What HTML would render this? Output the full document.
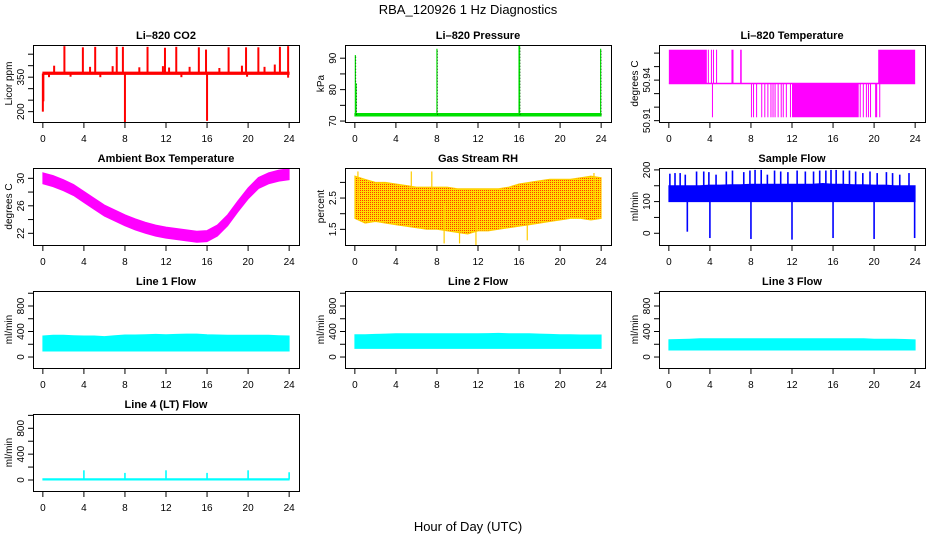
<!DOCTYPE html>
<html><head><meta charset="utf-8">
<style>
html,body{margin:0;padding:0;background:#fff;}
svg{display:block;font-family:"Liberation Sans",Arial,sans-serif;}
</style></head>
<body>
<svg id="chart" width="936" height="540" viewBox="0 0 936 540" xmlns="http://www.w3.org/2000/svg">
<defs>
<pattern id="rhpat" width="2" height="2" patternUnits="userSpaceOnUse">
<rect width="2" height="2" fill="#ffdd00"/><rect width="1" height="1" fill="#ff3a00"/>
</pattern>
</defs>
<text x="468" y="14" text-anchor="middle" font-size="13">RBA_120926  1 Hz Diagnostics</text>
<text x="468" y="531" text-anchor="middle" font-size="13">Hour of Day (UTC)</text>
</svg>
<script>
// ---- shared ----
const xTicks = [0,4,8,12,16,20,24];
const hours = [0,1,2,3,4,5,6,7,8,9,10,11,12,13,14,15,16,17,18,19,20,21,22,23,24];

// CO2
const co2Lo = hours.map(()=>362);
const co2Hi = hours.map(()=>372);
const co2SpikeHours = [2.1,3.9,5.1,7.2,7.8,10.2,11.9,13.0,15.2,15.9,18.1,19.8,21.0,23.1,23.9,1.1,4.6,6.8,9.4,11.7,12.3,14.3,17.2,19.4,21.6,22.6,0.0,0.05,8.0,16.0,0.6,2.7,5.6,13.5,19.9,23.9];
const co2SpikeVals  = [485,480,482,482,482,482,478,482,480,470,480,480,480,482,485,400,395,398,393,398,392,395,390,400,395,405,200,245,155,160,350,352,350,350,352,348];
const co2Ticks = [200,250,300,350,400,450];
const co2Labels = [200,350];

// Pressure
const presLo = hours.map(()=>71.6);
const presHi = hours.map(()=>72.4);
const presSpikeHours = [0.05,0.12,8.0,16.0,16.05,23.95];
const presSpikeVals = [91,82,93,94,94,93];
const presTicks = [70,75,80,85,90];
const presLabels = [70,80,90];

// Li-820 Temperature (intervals)
const tempStart = [0.0,3.8,4.1,4.3,4.6,6.1,6.95,4.2,8.0,8.2,8.5,9.0,9.3,9.6,9.9,10.1,10.3,10.6,10.9,11.1,11.4,11.8,12.0,18.6,18.9,19.2,19.4,19.6,20.1,20.5,20.4];
const tempEnd   = [3.7,3.9,4.2,4.4,4.7,6.3,7.1,4.3,8.08,8.3,8.6,9.1,9.4,9.7,10.0,10.2,10.4,10.7,11.0,11.2,11.5,11.9,18.5,18.7,19.0,19.3,19.5,19.7,20.3,20.6,24.0];
const tempLo    = [50.9375,50.9375,50.9375,50.9375,50.9375,50.9375,50.9375,50.9125,50.9125,50.9125,50.9125,50.9125,50.9125,50.9125,50.9125,50.9125,50.9125,50.9125,50.9125,50.9125,50.9125,50.9125,50.9125,50.9125,50.9125,50.9125,50.9125,50.9125,50.9125,50.9125,50.9375];
const tempHi    = [50.9625,50.9625,50.9625,50.9625,50.9625,50.9625,50.9625,50.9375,50.9375,50.9375,50.9375,50.9375,50.9375,50.9375,50.9375,50.9375,50.9375,50.9375,50.9375,50.9375,50.9375,50.9375,50.9375,50.9375,50.9375,50.9375,50.9375,50.9375,50.9375,50.9375,50.9625];
const tempTicks = [50.91,50.92,50.93,50.94,50.95,50.96];
const tempLabels = [50.91,50.94];

// Ambient box temperature
const ambMid = [30,29.6,29,28.3,27.3,26.3,25.3,24.6,23.9,23.3,22.8,22.4,22.1,21.9,21.7,21.5,21.6,22.4,23.9,25.9,27.8,29.3,30,30.4,30.6];
const ambLo = ambMid.map(v=>v-0.8);
const ambHi = ambMid.map(v=>v+0.8);
const ambTicks = [22,24,26,28,30];
const ambLabels = [22,26,30];

// Gas stream RH
const rhLo = [1.85,1.7,1.75,1.7,1.65,1.6,1.55,1.5,1.5,1.45,1.4,1.35,1.45,1.45,1.5,1.55,1.6,1.65,1.7,1.75,1.8,1.85,1.85,1.8,1.85];
const rhHi = [3.2,3.1,3.0,3.0,2.95,2.9,2.85,2.85,2.85,2.85,2.8,2.8,2.8,2.8,2.8,2.85,2.95,3.0,3.05,3.1,3.1,3.1,3.15,3.2,3.15];
const rhSpikeHours = [8.7,10.2,11.8,16.8,0.3,5.5,7.5,23.3];
const rhSpikeVals = [1.05,1.05,1.0,1.15,3.35,3.35,3.35,3.3];
const rhTicks = [1.5,2.0,2.5,3.0];
const rhLabels = [1.5,2.5];

// Sample flow
const sfLo = hours.map(()=>100);
const sfHi = [150,150,150,150,152,152,153,153,155,155,155,155,155,155,155,157,155,155,153,153,152,152,150,150,150];
const sfSpikeHours = [0.1,0.6,1.1,1.6,2.7,3.4,3.9,4.6,5.6,6.2,7.3,7.9,8.4,9.0,9.6,10.3,10.9,11.6,12.5,13.3,14.1,14.7,15.3,15.8,16.3,17.0,17.6,18.2,18.9,19.6,20.3,21.2,21.8,22.5,23.4,1.8,4.0,8.0,12.0,16.0,20.0,23.95];
const sfSpikeVals  = [188,190,190,185,195,195,193,185,195,198,193,198,200,200,185,198,195,193,198,195,195,198,198,200,200,198,198,195,190,195,190,193,190,185,190,5,-15,-18,-20,-15,-18,-15];
const sfTicks = [0,50,100,150,200];
const sfLabels = [0,100,200];

// Line flows
const l1Lo = hours.map(()=>95);
const l1Hi = [330,340,340,335,330,330,320,335,345,345,350,355,350,355,360,360,350,345,340,340,340,340,340,335,330];
const l2Lo = hours.map(()=>135);
const l2Hi = [350,350,355,360,365,365,365,365,365,365,365,365,365,368,370,365,365,365,360,355,350,350,345,345,345];
const l3Lo = hours.map(()=>110);
const l3Hi = [270,275,280,285,285,285,285,285,285,285,285,285,285,285,285,285,285,285,285,285,280,280,280,275,270];
const l4Lo = hours.map(()=>0);
const l4Hi = hours.map(()=>20);
const l4SpikeHours = [4,8,12,16,20,24];
const l4SpikeVals = [150,110,150,110,150,120];
const flowTicks = [0,200,400,600,800,1000];
const flowLabels = [0,400,800];

// ---- drawing ----
const svg = document.getElementById('chart');
const NS = 'http://www.w3.org/2000/svg';
function mk(tag, attrs, parent){
  const e = document.createElementNS(NS, tag);
  for (const k in attrs) e.setAttribute(k, attrs[k]);
  (parent||svg).appendChild(e);
  return e;
}
const colL = [33,345,659];
const rowT = [45,168,291,414];
const W = 266, H = 77;

function panel(cfg){
  const L = colL[cfg.col], T = rowT[cfg.row];
  const g = mk('g', {});
  
  
  const xs = h => L + (h + 0.96) / 25.92 * W;
  const ys = v => T + H - (v - cfg.ymin) / (cfg.ymax - cfg.ymin) * H;
  const clipId = 'clip-' + cfg.name;
  const cp = mk('clipPath', {id: clipId}, g);
  mk('rect', {x:L, y:T, width:W, height:H}, cp);
  const plot = mk('g', {'clip-path':'url(#'+clipId+')'}, g);
  
  
  if (cfg.lo){
    let pts = [];
    hours.forEach((h,i)=>pts.push(xs(h).toFixed(1)+','+ys(cfg.hi[i]).toFixed(1)));
    for (let i=hours.length-1;i>=0;i--) pts.push(xs(hours[i]).toFixed(1)+','+ys(cfg.lo[i]).toFixed(1));
    const p = mk('polygon', {points: pts.join(' '), fill: cfg.fill || cfg.color, stroke: cfg.bandStroke || cfg.color, 'stroke-width': 1}, plot);
    
    
  }
  if (cfg.intStart){
    cfg.intStart.forEach((s,i)=>{
      const r = mk('rect', {x: xs(s), y: ys(cfg.intHi[i]), width: Math.max(1, xs(cfg.intEnd[i]) - xs(s)), height: ys(cfg.intLo[i]) - ys(cfg.intHi[i]), fill: cfg.color}, plot);
      
      
    });
    const ln = mk('line', {x1: xs(0), x2: xs(24), y1: ys(50.9375), y2: ys(50.9375), stroke: cfg.color, 'stroke-width': 1.5}, plot);
    
    
  }
  if (cfg.spikeH){
    cfg.spikeH.forEach((h,i)=>{
      const base = cfg.spikeBase(h);
      const l = mk('line', {x1: xs(h), x2: xs(h), y1: ys(base), y2: ys(cfg.spikeV[i]), stroke: cfg.spikeColor || cfg.color, 'stroke-width': cfg.spikeW || 1.6}, plot);
      
      
      if (cfg.dotted){
        const d = mk('line', {x1: xs(h)+0.5, x2: xs(h)+0.5, y1: ys(base), y2: ys(cfg.spikeV[i]), stroke: '#000', 'stroke-width': 0.6, 'stroke-dasharray': '1,2'}, plot);
        
        
      }
    });
  }
  const box = mk('rect', {x:L+0.5, y:T+0.5, width:W, height:H, fill:'none', stroke:'#000', 'stroke-width':1}, g);
  
  
  const xa = mk('g', {}, g);
  
  
  xTicks.forEach(t=>{
    mk('line', {x1: xs(t), x2: xs(t), y1: T+H+0.5, y2: T+H+6, stroke:'#000'}, xa);
    const tx = mk('text', {x: xs(t), y: T+H+20, 'text-anchor':'middle', 'font-size': 10}, xa);
    tx.textContent = t;
    
    
  });
  const ya = mk('g', {}, g);
  
  
  cfg.ticks.forEach(t=>{
    mk('line', {x1: L-5, x2: L+0.5, y1: ys(t), y2: ys(t), stroke:'#000'}, ya);
  });
  cfg.labels.forEach(t=>{
    const tx = mk('text', {x: L-9, y: ys(t), 'text-anchor':'middle', 'font-size': 10, transform: 'rotate(-90 '+(L-9)+' '+ys(t)+')'}, ya);
    tx.textContent = t;
    
    
  });
  const yt = mk('text', {x: L-21, y: T+H/2, 'text-anchor':'middle', 'font-size': 10, transform: 'rotate(-90 '+(L-21)+' '+(T+H/2)+')'}, g);
  yt.textContent = cfg.ylab;
  
  
  const ti = mk('text', {x: L+W/2, y: T-6, 'text-anchor':'middle', 'font-size': 11, 'font-weight':'bold'}, g);
  ti.textContent = cfg.title;
  
  
}

panel({name:'co2-panel', title:'Li\u2013820 CO2', ylab:'Licor ppm', col:0,row:0, ymin:155,ymax:490, color:'#ff0000', lo:co2Lo, hi:co2Hi, spikeH:co2SpikeHours, spikeV:co2SpikeVals, spikeBase:()=>366, spikeW:2, ticks:co2Ticks, labels:co2Labels});
panel({name:'pressure-panel', title:'Li\u2013820 Pressure', ylab:'kPa', col:1,row:0, ymin:69.7,ymax:94.2, color:'#00e000', lo:presLo, hi:presHi, spikeH:presSpikeHours, spikeV:presSpikeVals, spikeBase:()=>72, dotted:true, spikeW:1.2, ticks:presTicks, labels:presLabels});
panel({name:'li820-temperature-panel', title:'Li\u2013820 Temperature', ylab:'degrees C', col:2,row:0, ymin:50.909,ymax:50.966, color:'#ff00ff', intStart:tempStart, intEnd:tempEnd, intLo:tempLo, intHi:tempHi, ticks:tempTicks, labels:tempLabels});
panel({name:'ambient-temperature-panel', title:'Ambient Box Temperature', ylab:'degrees C', col:0,row:1, ymin:20.3,ymax:31.5, color:'#ff00ff', lo:ambLo, hi:ambHi, ticks:ambTicks, labels:ambLabels});
panel({name:'rh-panel', title:'Gas Stream RH', ylab:'percent', col:1,row:1, ymin:1.0,ymax:3.46, color:'#ffee00', fill:'url(#rhpat)', bandStroke:'#ffcc00', lo:rhLo, hi:rhHi, spikeH:rhSpikeHours, spikeV:rhSpikeVals, spikeBase:()=>2.3, spikeColor:'#ffcc00', spikeW:1.2, ticks:rhTicks, labels:rhLabels});
panel({name:'sample-flow-panel', title:'Sample Flow', ylab:'ml/min', col:2,row:1, ymin:-37,ymax:206, color:'#0000ff', lo:sfLo, hi:sfHi, spikeH:sfSpikeHours, spikeV:sfSpikeVals, spikeBase:()=>125, ticks:sfTicks, labels:sfLabels});
panel({name:'line1-flow-panel', title:'Line 1 Flow', ylab:'ml/min', col:0,row:2, ymin:-172,ymax:1035, color:'#00ffff', lo:l1Lo, hi:l1Hi, ticks:flowTicks, labels:flowLabels});
panel({name:'line2-flow-panel', title:'Line 2 Flow', ylab:'ml/min', col:1,row:2, ymin:-172,ymax:1035, color:'#00ffff', lo:l2Lo, hi:l2Hi, ticks:flowTicks, labels:flowLabels});
panel({name:'line3-flow-panel', title:'Line 3 Flow', ylab:'ml/min', col:2,row:2, ymin:-172,ymax:1035, color:'#00ffff', lo:l3Lo, hi:l3Hi, ticks:flowTicks, labels:flowLabels});
panel({name:'line4-flow-panel', title:'Line 4 (LT) Flow', ylab:'ml/min', col:0,row:3, ymin:-170,ymax:1021, color:'#00ffff', lo:l4Lo, hi:l4Hi, spikeH:l4SpikeHours, spikeV:l4SpikeVals, spikeBase:()=>10, ticks:flowTicks, labels:flowLabels});
</script>
</body></html>
